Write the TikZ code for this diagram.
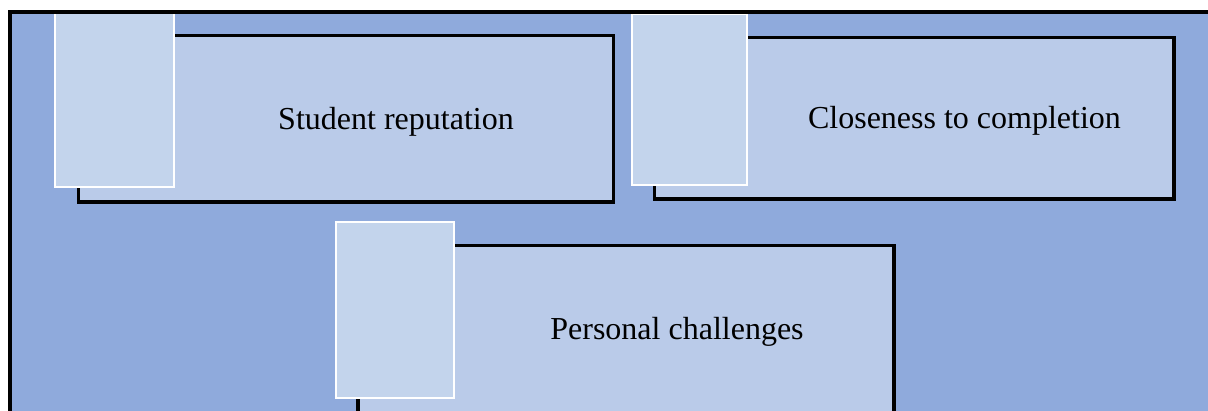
\documentclass[tikz,border=0pt]{standalone}
\usepackage{fontspec}
\setmainfont{Liberation Serif}
\definecolor{pageblue}{HTML}{8FAADC}
\definecolor{cardfill}{HTML}{BACBE9}
\definecolor{tabfill}{HTML}{C3D4EC}
\tikzset{
  card/.style={draw=black, line width=3.6pt, fill=cardfill, inner sep=0pt, outer sep=0pt, anchor=north west},
  tab/.style={draw=white, line width=2pt, fill=tabfill, inner sep=0pt, outer sep=0pt, anchor=north west},
  caption/.style={font=\fontsize{32}{38}\selectfont, text=black, anchor=base, inner sep=0pt}
}
\begin{document}
\begin{tikzpicture}[x=1pt, y=-1pt]
  \useasboundingbox (0,0) rectangle (1208,410);
  \clip (0,0) rectangle (1208,410);
  \fill[white] (0,0) rectangle (1208,410);
  % framed blue panel
  \fill[pageblue] (10,12) rectangle (1210,412);

  % card 1
  \node[card, minimum width=535pt, minimum height=166.5pt] (card1) at (78.5,35.5) {};
  \node[tab, minimum width=119pt, minimum height=178pt] (tab1) at (55,9) {};
  \node[caption] (t1) at (396,129) {Student reputation};

  % card 2
  \node[card, minimum width=519.5pt, minimum height=161.5pt] (card2) at (654.5,37.5) {};
  \node[tab, minimum width=115pt, minimum height=170.5pt] (tab2) at (632,14) {};
  \node[caption] (t2) at (964.5,128) {Closeness to completion};

  % card 3
  \node[card, minimum width=536pt, minimum height=190pt] (card3) at (358,245.5) {};
  \node[tab, minimum width=118.5pt, minimum height=176pt] (tab3) at (335.5,221.5) {};
  \node[caption] (t3) at (677,339) {Personal challenges};

  % panel border, top and left edges
  \draw[line width=4pt] (10,414) -- (10,12) -- (1210,12);
\end{tikzpicture}
\end{document}
